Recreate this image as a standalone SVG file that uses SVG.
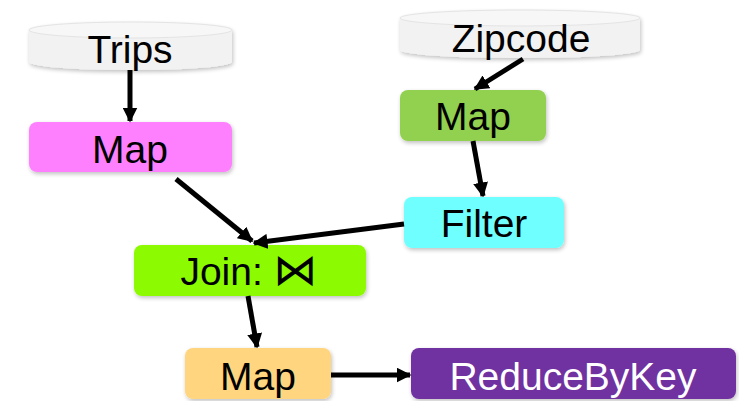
<svg xmlns="http://www.w3.org/2000/svg" width="739" height="401" viewBox="0 0 739 401">
  <defs>
    <filter id="shadow" x="-10%" y="-20%" width="120%" height="150%">
      <feGaussianBlur in="SourceAlpha" stdDeviation="2"/>
      <feOffset dx="1" dy="2" result="b"/>
      <feComponentTransfer><feFuncA type="linear" slope="0.25"/></feComponentTransfer>
      <feMerge><feMergeNode/><feMergeNode in="SourceGraphic"/></feMerge>
    </filter>
    <marker id="arrow" viewBox="0 0 10 10" refX="9" refY="5" markerWidth="3" markerHeight="3" orient="auto" markerUnits="strokeWidth">
      <path d="M0,0 L10,5 L0,10 Z" fill="#000"/>
    </marker>
  </defs>
  <style>
    text { font-family: "Liberation Sans", "DejaVu Sans", sans-serif; font-size: 39px; text-anchor: middle; fill: #000; }
    .box { filter: url(#shadow); }
    .cyl { fill: #F2F2F2; filter: url(#shadow); }
    .cyltop { fill: #F7F7F7; stroke: #E4E4E4; stroke-width: 1; }
    .edge { stroke: #000; stroke-width: 5; fill: none; marker-end: url(#arrow); }
    .bowtie { font-family: "DejaVu Sans", sans-serif; font-size: 44px; }
  </style>

  <!-- data sources -->
  <g id="trips">
    <path class="cyl" d="M29,30 A101.5,8 0 0 1 232,30 L232,62 A101.5,8 0 0 1 29,62 Z"/>
    <ellipse class="cyltop" cx="130.5" cy="30" rx="101.5" ry="8"/>
    <text x="130" y="63">Trips</text>
  </g>
  <g id="zipcode">
    <path class="cyl" d="M400,18 A120,8 0 0 1 640,18 L640,50 A120,8 0 0 1 400,50 Z"/>
    <ellipse class="cyltop" cx="520" cy="18" rx="120" ry="8"/>
    <text x="521" y="52">Zipcode</text>
  </g>

  <!-- operators -->
  <g id="map-trips">
    <rect class="box" x="29" y="122" width="203" height="50" rx="8" fill="#FF80FF"/>
    <text x="130" y="163">Map</text>
  </g>
  <g id="map-zip">
    <rect class="box" x="400" y="90" width="146" height="51" rx="8" fill="#92D050"/>
    <text x="473" y="130">Map</text>
  </g>
  <g id="filter">
    <rect class="box" x="404" y="197" width="160" height="51" rx="8" fill="#70FFFF"/>
    <text x="484" y="237">Filter</text>
  </g>
  <g id="join">
    <rect class="box" x="134" y="245" width="232" height="51" rx="8" fill="#8CFA00"/>
    <text x="249" y="285">Join: <tspan class="bowtie">⋈</tspan></text>
  </g>
  <g id="map-out">
    <rect class="box" x="185" y="348" width="146" height="51" rx="8" fill="#FFD580"/>
    <text x="258" y="390">Map</text>
  </g>
  <g id="reduce">
    <rect class="box" x="411" y="348" width="325" height="51" rx="8" fill="#7030A0"/>
    <text x="573" y="390" style="fill:#FFFFFF">ReduceByKey</text>
  </g>

  <!-- connectors -->
  <g id="edges">
    <line class="edge" x1="130" y1="70" x2="130" y2="121"/>
    <line class="edge" x1="523" y1="59" x2="475" y2="89"/>
    <line class="edge" x1="473" y1="141" x2="483" y2="196"/>
    <line class="edge" x1="176" y1="179" x2="252" y2="241"/>
    <line class="edge" x1="404" y1="224" x2="254" y2="243"/>
    <line class="edge" x1="248" y1="296" x2="257" y2="347"/>
    <line class="edge" x1="331" y1="375" x2="410" y2="375"/>
  </g>
</svg>
